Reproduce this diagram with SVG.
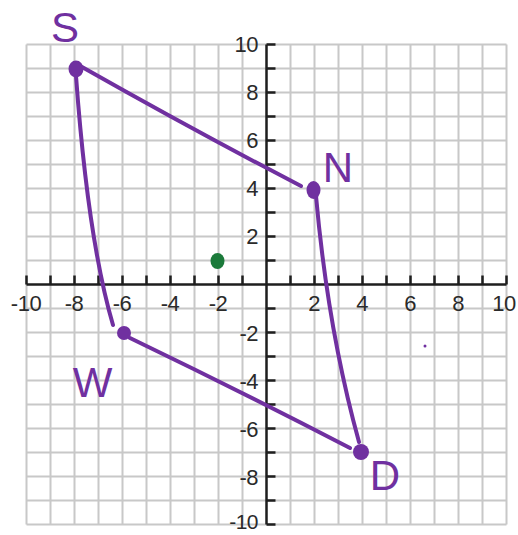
<svg xmlns="http://www.w3.org/2000/svg" width="518" height="535" viewBox="0 0 518 535">
<style>
.grid line{stroke:#c8c8c8;stroke-width:2}
.axis{stroke:#1e1e1e;stroke-width:2.5;fill:none}
.num{font-family:"Liberation Sans",Arial,sans-serif;font-size:22px;fill:#2a2a2a;letter-spacing:-0.5px}
.xl{text-anchor:middle}
.yl{text-anchor:end}
.edge{stroke:#7030a0;stroke-width:4;fill:none;stroke-linecap:round;stroke-linejoin:round}
.dot{fill:#7030a0}
.lbl{font-family:"Liberation Sans",Arial,sans-serif;font-size:42px;fill:#7030a0;text-anchor:middle}
</style>
<rect width="518" height="535" fill="#ffffff"/>
<g class="grid">
<line x1="26.5" y1="44.5" x2="26.5" y2="524.5"/><line x1="50.5" y1="44.5" x2="50.5" y2="524.5"/><line x1="74.5" y1="44.5" x2="74.5" y2="524.5"/><line x1="98.5" y1="44.5" x2="98.5" y2="524.5"/><line x1="122.5" y1="44.5" x2="122.5" y2="524.5"/><line x1="146.5" y1="44.5" x2="146.5" y2="524.5"/><line x1="170.5" y1="44.5" x2="170.5" y2="524.5"/><line x1="194.5" y1="44.5" x2="194.5" y2="524.5"/><line x1="218.5" y1="44.5" x2="218.5" y2="524.5"/><line x1="242.5" y1="44.5" x2="242.5" y2="524.5"/><line x1="290.5" y1="44.5" x2="290.5" y2="524.5"/><line x1="314.5" y1="44.5" x2="314.5" y2="524.5"/><line x1="338.5" y1="44.5" x2="338.5" y2="524.5"/><line x1="362.5" y1="44.5" x2="362.5" y2="524.5"/><line x1="386.5" y1="44.5" x2="386.5" y2="524.5"/><line x1="410.5" y1="44.5" x2="410.5" y2="524.5"/><line x1="434.5" y1="44.5" x2="434.5" y2="524.5"/><line x1="458.5" y1="44.5" x2="458.5" y2="524.5"/><line x1="482.5" y1="44.5" x2="482.5" y2="524.5"/><line x1="506.5" y1="44.5" x2="506.5" y2="524.5"/>
<line x1="26.5" y1="44.5" x2="506.5" y2="44.5"/><line x1="26.5" y1="68.5" x2="506.5" y2="68.5"/><line x1="26.5" y1="92.5" x2="506.5" y2="92.5"/><line x1="26.5" y1="116.5" x2="506.5" y2="116.5"/><line x1="26.5" y1="140.5" x2="506.5" y2="140.5"/><line x1="26.5" y1="164.5" x2="506.5" y2="164.5"/><line x1="26.5" y1="188.5" x2="506.5" y2="188.5"/><line x1="26.5" y1="212.5" x2="506.5" y2="212.5"/><line x1="26.5" y1="236.5" x2="506.5" y2="236.5"/><line x1="26.5" y1="260.5" x2="506.5" y2="260.5"/><line x1="26.5" y1="308.5" x2="506.5" y2="308.5"/><line x1="26.5" y1="332.5" x2="506.5" y2="332.5"/><line x1="26.5" y1="356.5" x2="506.5" y2="356.5"/><line x1="26.5" y1="380.5" x2="506.5" y2="380.5"/><line x1="26.5" y1="404.5" x2="506.5" y2="404.5"/><line x1="26.5" y1="428.5" x2="506.5" y2="428.5"/><line x1="26.5" y1="452.5" x2="506.5" y2="452.5"/><line x1="26.5" y1="476.5" x2="506.5" y2="476.5"/><line x1="26.5" y1="500.5" x2="506.5" y2="500.5"/><line x1="26.5" y1="524.5" x2="506.5" y2="524.5"/>
</g>
<g id="axes">
<path class="axis" d="M26.5 284.5H506.5M266.5 44.5V524.5"/>
<path class="axis" d="M26.5 284.5v-9M50.5 284.5v-9M74.5 284.5v-9M98.5 284.5v-9M122.5 284.5v-9M146.5 284.5v-9M170.5 284.5v-9M194.5 284.5v-9M218.5 284.5v-9M242.5 284.5v-9M290.5 284.5v-9M314.5 284.5v-9M338.5 284.5v-9M362.5 284.5v-9M386.5 284.5v-9M410.5 284.5v-9M434.5 284.5v-9M458.5 284.5v-9M482.5 284.5v-9M506.5 284.5v-9"/>
<path class="axis" d="M266.5 44.5h9M266.5 68.5h9M266.5 92.5h9M266.5 116.5h9M266.5 140.5h9M266.5 164.5h9M266.5 188.5h9M266.5 212.5h9M266.5 236.5h9M266.5 260.5h9M266.5 308.5h9M266.5 332.5h9M266.5 356.5h9M266.5 380.5h9M266.5 404.5h9M266.5 428.5h9M266.5 452.5h9M266.5 476.5h9M266.5 500.5h9M266.5 524.5h9"/>
</g>
<g id="axis-labels" class="num">
<text class="xl" x="26" y="311">-10</text><text class="xl" x="74" y="311">-8</text><text class="xl" x="122" y="311">-6</text><text class="xl" x="170" y="311">-4</text><text class="xl" x="218" y="311">-2</text><text class="xl" x="314" y="311">2</text><text class="xl" x="362" y="311">4</text><text class="xl" x="410" y="311">6</text><text class="xl" x="458" y="311">8</text><text class="xl" x="504" y="311">10</text>
<text class="yl" x="258" y="52">10</text><text class="yl" x="258" y="100">8</text><text class="yl" x="258" y="148">6</text><text class="yl" x="258" y="196">4</text><text class="yl" x="258" y="244">2</text><text class="yl" x="258" y="341">-2</text><text class="yl" x="258" y="389">-4</text><text class="yl" x="258" y="437">-6</text><text class="yl" x="258" y="485">-8</text><text class="yl" x="258" y="529" style="font-size:21px">-10</text>
</g>
<g id="connectors">
<path class="edge" d="M82 67Q195 131 301 186"/>
<path class="edge" d="M76 76Q88 240 113 325"/>
<path class="edge" d="M130 338Q242 392 350 448"/>
<path class="edge" d="M316 196Q328 330 359 442"/>
</g>
<g id="node-S"><ellipse class="dot" cx="76" cy="69" rx="7.5" ry="8.5"/><text class="lbl" x="65" y="42">S</text></g>
<g id="node-N"><ellipse class="dot" cx="313.5" cy="190" rx="7" ry="9"/><text class="lbl" x="338" y="182">N</text></g>
<g id="node-W"><circle class="dot" cx="124" cy="333" r="7"/><text class="lbl" x="92.5" y="397">W</text></g>
<g id="node-D"><circle class="dot" cx="361" cy="452" r="8"/><text class="lbl" x="385" y="490">D</text></g>
<g id="point-green"><ellipse cx="217.5" cy="261" rx="7" ry="8" fill="#1b7a3a"/></g>
<circle cx="425" cy="346" r="1.5" fill="#7030a0"/>
</svg>
